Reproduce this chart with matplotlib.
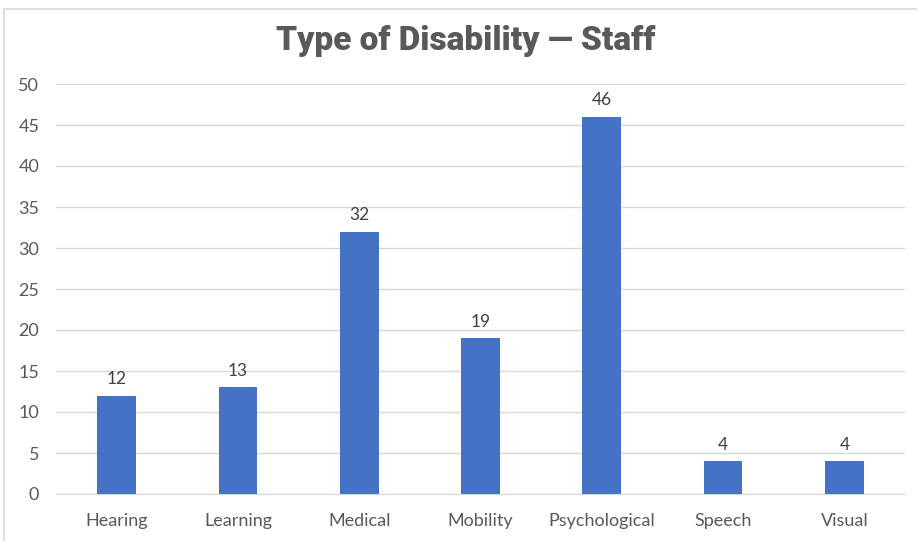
import matplotlib
matplotlib.use("Agg")
import matplotlib.pyplot as plt
from matplotlib.patches import Rectangle

categories = ["Hearing", "Learning", "Medical", "Mobility", "Psychological", "Speech", "Visual"]
values = [12, 13, 32, 19, 46, 4, 4]
yticks = [0, 5, 10, 15, 20, 25, 30, 35, 40, 45, 50]
title = "Type of Disability \u2014 Staff"

W, H = 917, 541
fig = plt.figure(figsize=(W / 100, H / 100), dpi=100)
fig.patch.set_facecolor("white")

# chart border
fig.patches.append(Rectangle((4 / W, -0.1), 1.2, (H - 9) / H + 0.1, transform=fig.transFigure,
                             fill=False, edgecolor="#d9d9d9", linewidth=1.2))

ax = fig.add_axes([56 / W, 1 - 494 / H, (905 - 56) / W, (494 - 84) / H])
x = range(len(categories))
bars = ax.bar(x, values, width=0.32, color="#4472C4", zorder=3)
ax.set_xlim(-0.5, len(categories) - 0.5)
ax.set_ylim(0, 50)
ax.set_yticks(yticks)
ax.set_xticks(list(x))
ax.set_xticklabels(categories)
ax.grid(axis="y", color="#d9d9d9", linewidth=1, zorder=0)
for s in ["top", "right", "left"]:
    ax.spines[s].set_visible(False)
ax.spines["bottom"].set_color("#d9d9d9")
ax.tick_params(axis="both", length=0, labelsize=13, labelcolor="#595959")
ax.tick_params(axis="x", pad=14)
ax.tick_params(axis="y", pad=12)
for lab in ax.get_xticklabels() + ax.get_yticklabels():
    lab.set_fontfamily("Lato")
for i, v in enumerate(values):
    ax.annotate(str(v), (i, v), xytext=(0, 6), textcoords="offset points",
                ha="center", va="bottom", fontsize=12.5, color="#404040", family="Lato")

fig.text(466 / W, 1 - 41 / H, title, ha="center", va="center", fontsize=24,
         fontweight="black", family="Roboto", color="#595959")

fig.savefig("out.png", dpi=100)
